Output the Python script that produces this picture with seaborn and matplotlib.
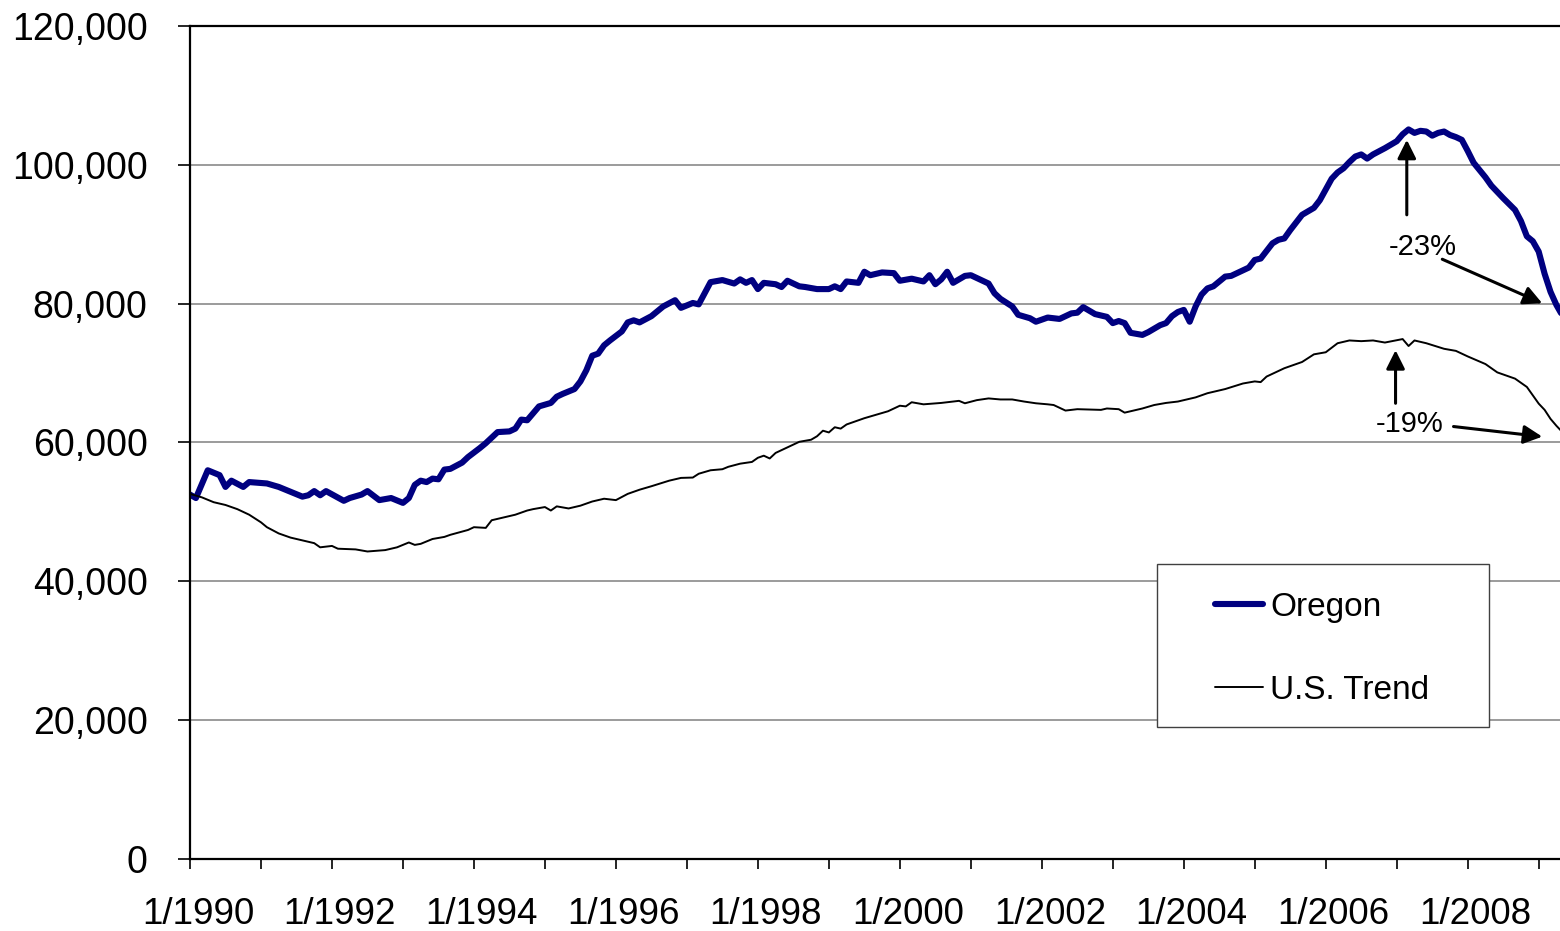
import matplotlib
matplotlib.use("Agg")
import matplotlib.pyplot as plt
import matplotlib.transforms as mtransforms
from matplotlib.patches import Rectangle
from matplotlib.lines import Line2D
import seaborn as sns
import pandas as pd

# ---- data (months since Jan 1990, values) ----
oregon_month = [0, 1, 3, 5, 6, 7, 9, 10, 13, 15, 17, 19, 20, 21, 22, 23, 26, 27, 29, 30,
                32, 34, 36, 37, 38, 39, 40, 41, 42, 43, 44, 46, 47, 49, 50, 52, 54, 55, 56, 57,
                59, 61, 62, 63, 65, 66, 67, 68, 69, 70, 71, 73, 74, 75, 76, 78, 80, 82, 83, 85,
                86, 87, 88, 90, 92, 93, 94, 95, 96, 97, 99, 100, 101, 103, 104, 106, 108, 109, 110, 111,
                113, 114, 115, 117, 119, 120, 122, 124, 125, 126, 127, 128, 129, 131, 132, 133, 135, 136, 137, 139,
                140, 142, 143, 145, 147, 149, 150, 151, 153, 155, 156, 157, 158, 159, 161, 162, 164, 165, 166, 167,
                168, 169, 170, 171, 172, 173, 175, 176, 178, 179, 180, 181, 183, 184, 185, 186, 188, 190, 191, 193,
                194, 195, 196, 197, 198, 199, 200, 202, 203, 204, 205, 206, 207, 208, 209, 210, 211, 212, 213, 214,
                215, 216, 217, 219, 220, 222, 224, 225, 226, 227, 228, 229, 230, 231, 232]
oregon_value = [52500, 52000, 56000, 55300, 53600, 54500, 53600, 54300, 54100, 53600, 52900, 52200, 52400, 53000, 52400, 53000, 51600, 52000, 52500, 53000,
                51700, 52000, 51300, 52000, 53900, 54500, 54300, 54800, 54700, 56100, 56200, 57100, 57900, 59200, 59900, 61500, 61600, 62000, 63300, 63200,
                65200, 65700, 66600, 67000, 67700, 68800, 70400, 72500, 72800, 74000, 74700, 76000, 77300, 77600, 77300, 78200, 79600, 80500, 79400, 80100,
                79900, 81500, 83100, 83400, 82900, 83500, 83000, 83400, 82100, 83000, 82800, 82400, 83300, 82500, 82400, 82100, 82100, 82500, 82100, 83200,
                83000, 84600, 84100, 84500, 84400, 83300, 83600, 83200, 84100, 82800, 83500, 84600, 83000, 84000, 84100, 83700, 82900, 81500, 80700, 79600,
                78400, 77900, 77400, 78000, 77800, 78600, 78700, 79500, 78500, 78100, 77200, 77500, 77200, 75800, 75500, 75900, 76900, 77200, 78200, 78800,
                79100, 77400, 79600, 81300, 82200, 82500, 83900, 84000, 84800, 85200, 86300, 86500, 88700, 89200, 89400, 90600, 92800, 93800, 94900, 98000,
                98900, 99500, 100400, 101200, 101500, 100900, 101500, 102400, 102900, 103400, 104400, 105100, 104600, 104900, 104800, 104200, 104600, 104800, 104300, 104000,
                103600, 102000, 100300, 98200, 97000, 95200, 93500, 91900, 89700, 89000, 87500, 84300, 81700, 79800, 78300]

us_month = [0, 2, 4, 6, 8, 10, 12, 13, 15, 17, 19, 21, 22, 24, 25, 28, 30, 33, 35, 37,
            38, 39, 41, 43, 44, 47, 48, 50, 51, 53, 55, 57, 58, 60, 61, 62, 64, 66, 68, 70,
            72, 74, 76, 78, 81, 83, 85, 86, 87, 88, 90, 91, 93, 95, 96, 97, 98, 99, 101, 103,
            105, 106, 107, 108, 109, 110, 111, 114, 116, 118, 119, 120, 121, 122, 124, 127, 130, 131, 133, 135,
            137, 139, 141, 143, 145, 146, 148, 150, 152, 154, 155, 157, 158, 161, 163, 165, 167, 169, 170, 172,
            175, 178, 180, 181, 182, 184, 185, 186, 188, 190, 192, 194, 196, 198, 200, 202, 205, 206, 207, 209,
            212, 214, 216, 219, 221, 224, 226, 227, 228, 229, 230, 231, 232]
us_value = [52600, 52100, 51400, 51000, 50400, 49600, 48500, 47800, 46900, 46300, 45900, 45500, 44900, 45100, 44700, 44600, 44300, 44500, 44900, 45600,
            45250, 45400, 46100, 46400, 46700, 47400, 47800, 47700, 48800, 49200, 49600, 50200, 50400, 50700, 50200, 50800, 50500, 50900, 51500, 51900,
            51700, 52600, 53200, 53700, 54500, 54900, 54950, 55500, 55750, 56000, 56150, 56500, 56950, 57200, 57800, 58100, 57700, 58500, 59300, 60100,
            60400, 60900, 61700, 61450, 62200, 62000, 62600, 63500, 64000, 64500, 64900, 65300, 65200, 65800, 65500, 65700, 66000, 65650, 66100, 66350,
            66200, 66200, 65900, 65650, 65500, 65400, 64600, 64800, 64750, 64700, 64900, 64800, 64300, 64900, 65400, 65700, 65900, 66300, 66500, 67100,
            67700, 68500, 68800, 68700, 69500, 70300, 70700, 71000, 71600, 72700, 73000, 74300, 74700, 74600, 74700, 74400, 74900, 73900, 74700, 74300,
            73500, 73200, 72400, 71300, 70100, 69200, 68000, 66800, 65600, 64700, 63400, 62400, 61500]

year_ticks = list(range(1990, 2010))
year_labels = [f"1/{y}" if (y - 1990) % 2 == 0 else "" for y in year_ticks]
y_ticks = [0, 20000, 40000, 60000, 80000, 100000, 120000]

series_names = ["Oregon", "U.S. Trend"]

df = pd.concat([
    pd.DataFrame({"month": oregon_month, "value": oregon_value, "series": series_names[0]}),
    pd.DataFrame({"month": us_month, "value": us_value, "series": series_names[1]}),
])

sns.set_theme(style="white")
plt.rcParams["font.family"] = ["Liberation Sans", "DejaVu Sans"]
plt.rcParams["text.color"] = "black"
plt.rcParams["xtick.color"] = "black"
plt.rcParams["ytick.color"] = "black"
plt.rcParams["axes.labelcolor"] = "black"

fig = plt.figure(figsize=(15.6, 9.31), dpi=100)
ax = fig.add_axes([190 / 1560, 1 - 859 / 931, 1 - 190 / 1560, (859 - 26) / 931])

sns.lineplot(data=df, x="month", y="value", hue="series", size="series",
             palette={"Oregon": "#000080", "U.S. Trend": "black"},
             sizes={"Oregon": 4.4, "U.S. Trend": 1.4},
             legend=False, ax=ax, estimator=None, sort=True)

ax.set_xlim(0, 231.6)
ax.set_ylim(0, 120000)
ax.set_xlabel("")
ax.set_ylabel("")

ax.tick_params(axis="x", direction="out", length=7.5, width=1.2, colors="black", pad=19.5, bottom=True)
ax.tick_params(axis="y", direction="out", length=8.5, width=1.2, colors="black", pad=22, left=True)

# y axis
ax.set_yticks(y_ticks)
ax.set_yticklabels([f"{v:,}" for v in y_ticks], fontsize=27, color="black")
ax.yaxis.grid(True, color="#808080", linewidth=1.1)
ax.set_axisbelow(True)

# x axis
ax.set_xticks([(y - 1990) * 12 for y in year_ticks])
ax.set_xticklabels(year_labels, fontsize=26.5, color="black")
offset = mtransforms.ScaledTranslation(8 / 100, 0, fig.dpi_scale_trans)
for lab in ax.xaxis.get_majorticklabels():
    lab.set_transform(lab.get_transform() + offset)

for side in ["left", "bottom", "top"]:
    ax.spines[side].set_visible(True)
    ax.spines[side].set_color("black")
    ax.spines[side].set_linewidth(1.6)
ax.spines["right"].set_visible(False)

# annotations
arrow_kw = dict(arrowstyle="-|>", color="black", lw=2.2, mutation_scale=28, shrinkA=0, shrinkB=0)
ax.annotate("", xy=(205.7, 103600), xytext=(205.7, 92800), arrowprops=arrow_kw)
ax.annotate("", xy=(228.6, 80050), xytext=(211.7, 86400), arrowprops=arrow_kw)
ax.text(208.4, 88200, "-23%", fontsize=21, ha="center", va="center", color="black")
ax.annotate("", xy=(203.8, 73300), xytext=(203.8, 65650), arrowprops=arrow_kw)
ax.annotate("", xy=(228.6, 60840), xytext=(213.6, 62300), arrowprops=arrow_kw)
ax.text(206.2, 62700, "-19%", fontsize=21, ha="center", va="center", color="black")

# legend box
bx0, bx1 = (1157 - 190) / 1370, (1489 - 190) / 1370
by0, by1 = (859 - 727) / 833, (859 - 564) / 833
ax.add_patch(Rectangle((bx0, by0), bx1 - bx0, by1 - by0, transform=ax.transAxes,
                       facecolor="white", edgecolor="#404040", linewidth=1.0, zorder=5))
handles = [Line2D([], [], color="#000080", lw=4.4, solid_capstyle="round"),
           Line2D([], [], color="black", lw=1.4)]
leg = ax.legend(handles, series_names, loc="upper left",
                bbox_to_anchor=((1215 - 190) / 1370, (859 - 592) / 833),
                frameon=False, fontsize=24, handlelength=1.45, handletextpad=0.2,
                labelspacing=1.55, borderpad=0, borderaxespad=0)
for t in leg.get_texts():
    t.set_color("black")
leg.set_zorder(6)

fig.savefig("out.png", dpi=100, facecolor="white")
